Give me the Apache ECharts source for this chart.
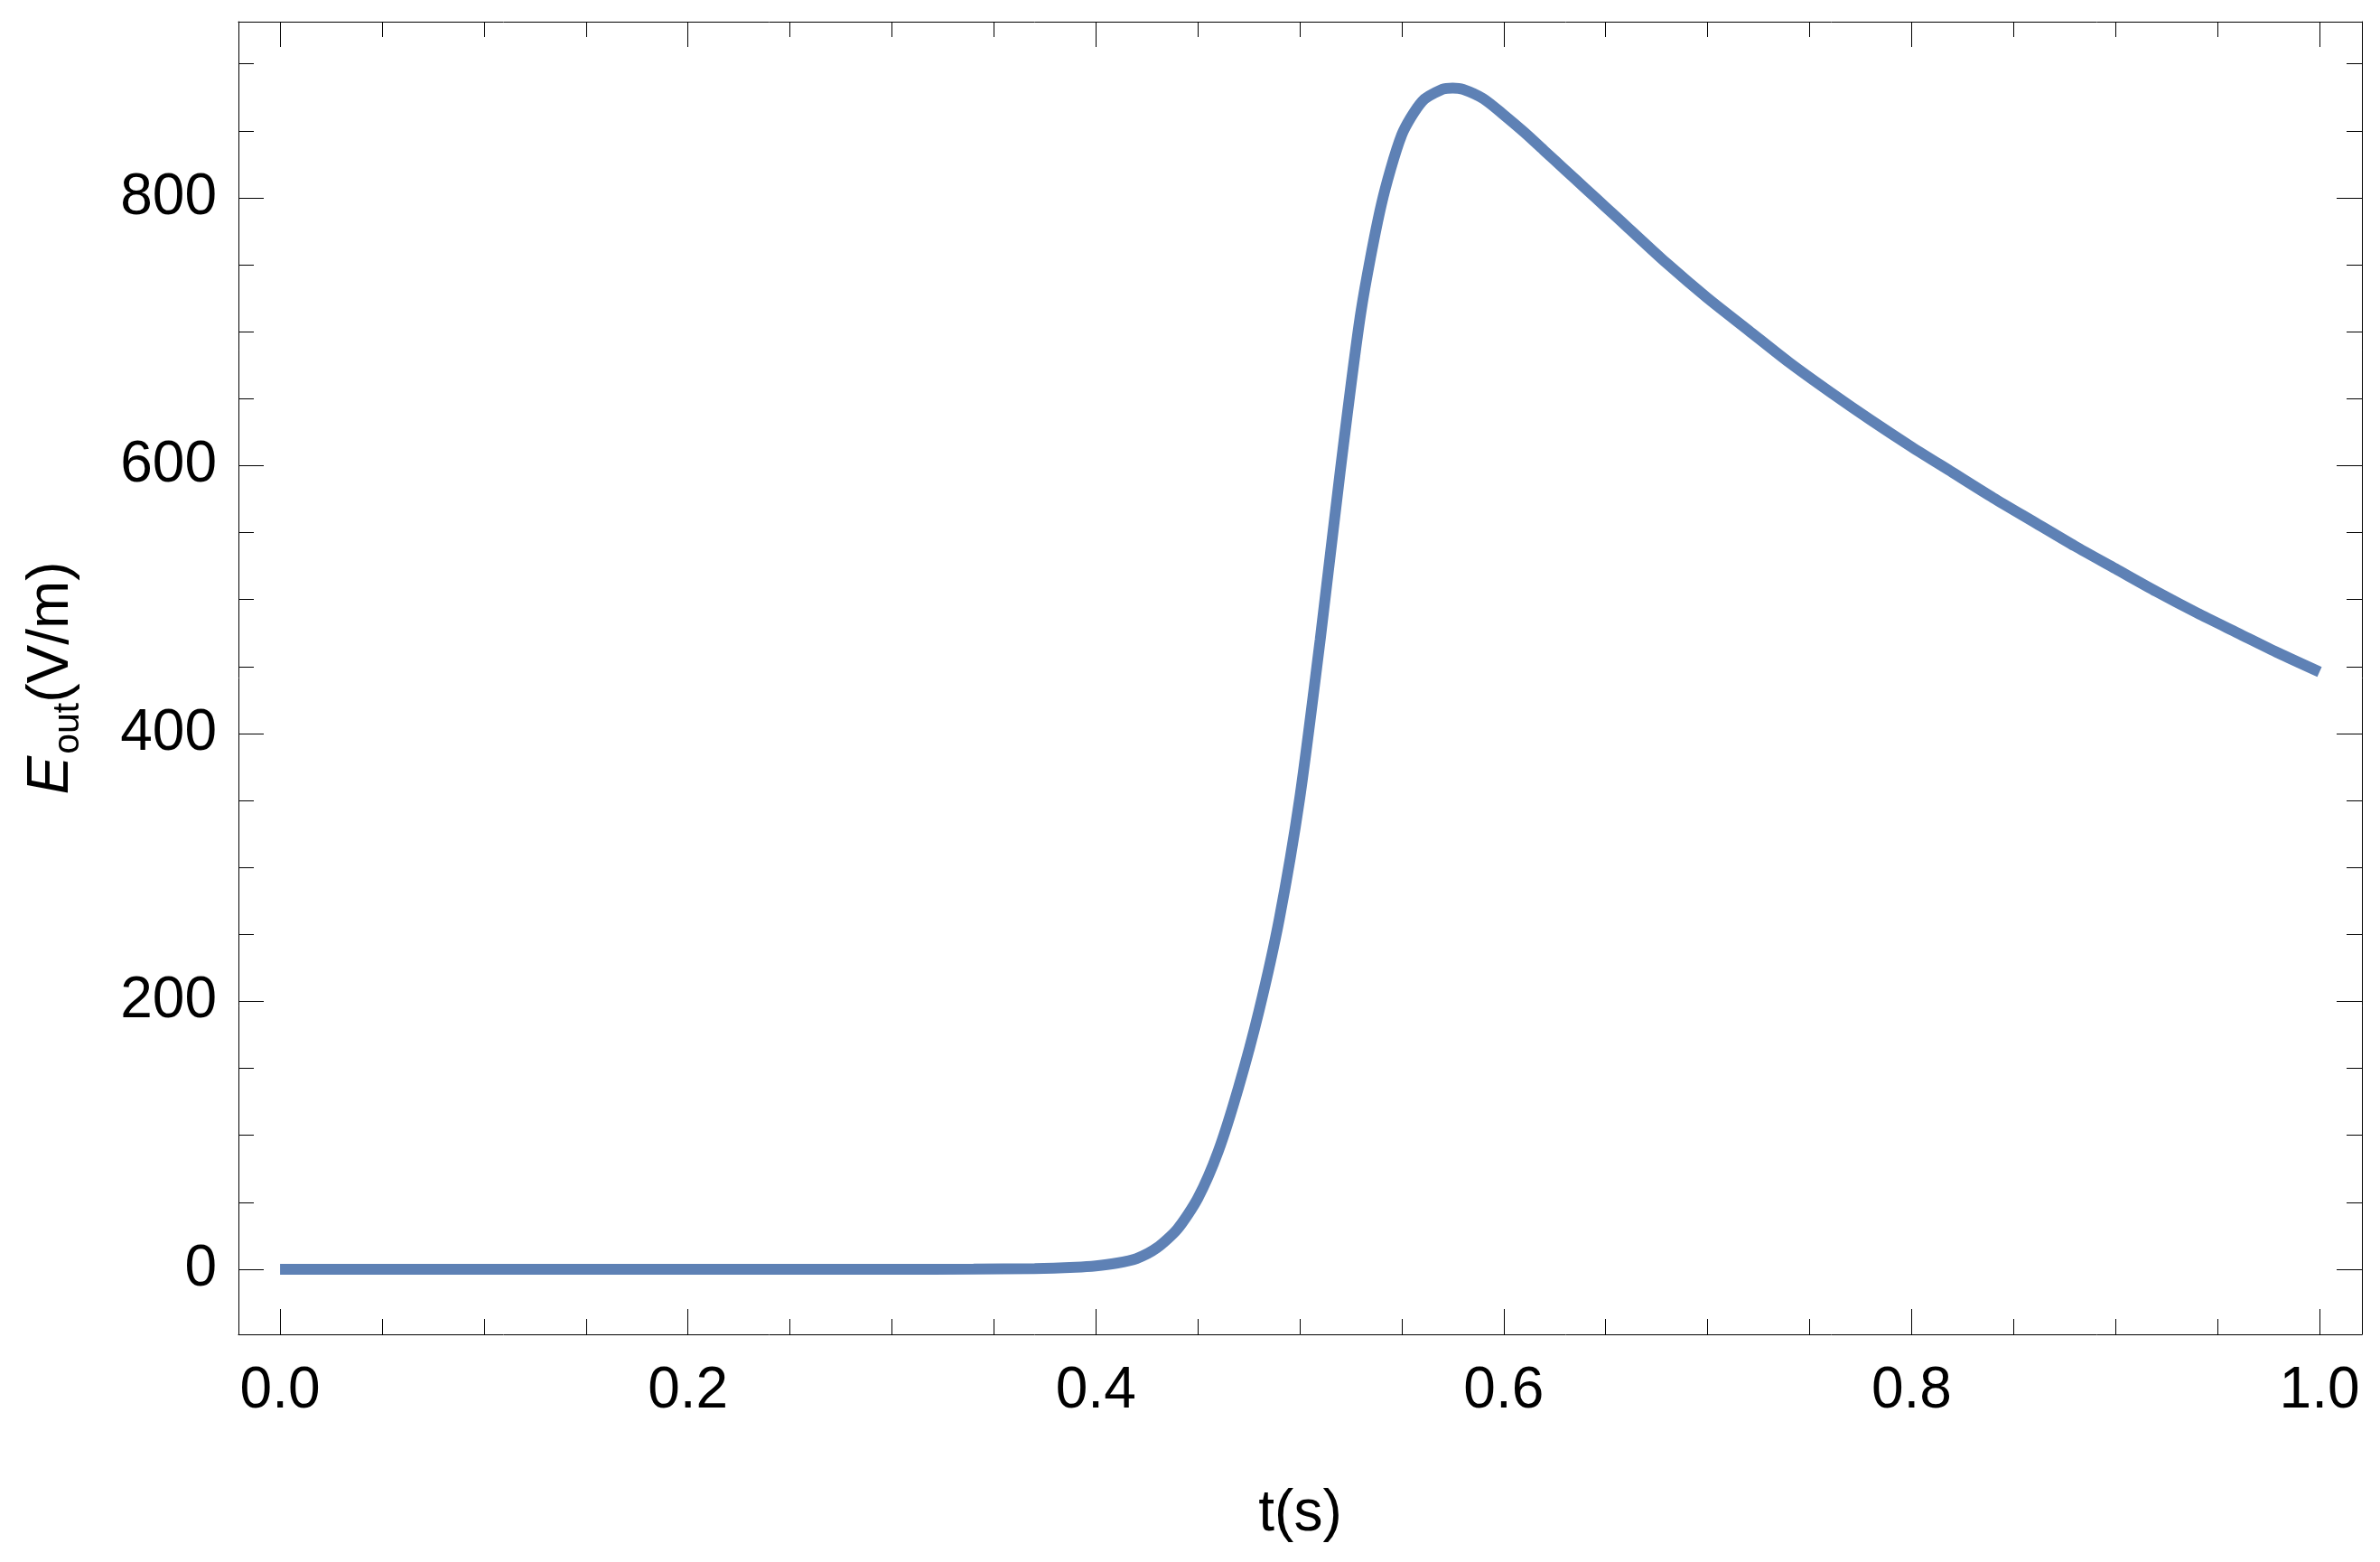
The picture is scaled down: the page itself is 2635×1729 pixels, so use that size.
<!DOCTYPE html>
<html>
<head>
<meta charset="utf-8">
<script src="https://cdn.jsdelivr.net/npm/echarts@6/dist/echarts.min.js"></script>
<style>
  html, body { margin: 0; padding: 0; background: #fff; }
  #chart { width: 2635px; height: 1729px; }
</style>
</head>
<body>
<div id="chart"></div>
<script>
// time (s) and field values (V/m)
var tValues = [0, 0.05, 0.10, 0.15, 0.20, 0.25, 0.30, 0.34, 0.37, 0.39, 0.40, 0.41, 0.42, 0.43,
    0.44, 0.45, 0.46, 0.47, 0.48, 0.49, 0.50, 0.51, 0.52, 0.53, 0.54, 0.55, 0.56, 0.57, 0.575,
    0.58, 0.59, 0.60, 0.61, 0.62, 0.63, 0.64, 0.65, 0.66, 0.68, 0.70, 0.72, 0.74, 0.76, 0.78,
    0.80, 0.82, 0.84, 0.86, 0.88, 0.90, 0.92, 0.94, 0.96, 0.98, 1.00];
var eValues = [0, 0, 0, 0, 0, 0, 0, 0.1, 0.5, 1.5, 2.5, 4.5, 8, 16,
    30, 53, 88, 136, 193, 262, 352, 470, 598, 715, 795, 847, 872, 881, 882,
    881, 874, 862, 849, 835, 821, 807, 793, 779, 751, 725, 701, 677, 655, 634,
    614, 595, 576, 558, 540, 523, 506, 490, 475, 460, 446];

var xMajor = [0, 0.2, 0.4, 0.6, 0.8, 1.0];
var xMinor = [0.05, 0.1, 0.15, 0.25, 0.3, 0.35, 0.45, 0.5, 0.55, 0.65, 0.7, 0.75, 0.85, 0.9, 0.95];
var yMajor = [0, 200, 400, 600, 800];
var yMinor = [50, 100, 150, 250, 300, 350, 450, 500, 550, 650, 700, 750, 850, 900];

var FONT = '"Liberation Sans", Arial, sans-serif';
var xMin = -0.0204, xMax = 1.0208;
var yMin = -48.6, yMax = 931.5;

var chart = echarts.init(document.getElementById('chart'));

var seriesData = tValues.map(function (t, i) { return [t, eValues[i]]; });

function frameX(position, ticks, len, showLine, extra) {
    var ax = {
        type: 'value', min: xMin, max: xMax, position: position,
        axisLine: { show: showLine, onZero: false, lineStyle: { color: '#000', width: 1 } },
        axisTick: { show: true, inside: true, length: len, customValues: ticks,
            lineStyle: { color: '#000', width: 1 } },
        axisLabel: { show: false },
        splitLine: { show: false }
    };
    return Object.assign(ax, extra || {});
}
function frameY(position, ticks, len, showLine, extra) {
    var ax = {
        type: 'value', min: yMin, max: yMax, position: position,
        axisLine: { show: showLine, onZero: false, lineStyle: { color: '#000', width: 1 } },
        axisTick: { show: true, inside: true, length: len, customValues: ticks,
            lineStyle: { color: '#000', width: 1 } },
        axisLabel: { show: false },
        splitLine: { show: false }
    };
    return Object.assign(ax, extra || {});
}

var option = {
    animation: false,
    backgroundColor: '#fff',
    grid: { left: 264, right: 20, top: 24, bottom: 252, outerBoundsMode: 'none' },
    xAxis: [
        frameX('bottom', xMajor, 28, true, {
            name: 't(s)',
            nameLocation: 'middle',
            nameGap: 167,
            nameMoveOverlap: false,
            nameTextStyle: { fontFamily: FONT, fontSize: 64, color: '#000' },
            axisLabel: {
                show: true, customValues: xMajor, margin: 31,
                fontFamily: FONT, fontSize: 64, color: '#000',
                formatter: function (v) { return v.toFixed(1); }
            }
        }),
        frameX('bottom', xMinor, 17, false),
        frameX('top', xMajor, 28, true),
        frameX('top', xMinor, 17, false)
    ],
    yAxis: [
        frameY('left', yMajor, 28, true, {
            name: '{i|E}{s|out}{n|(V/m)}',
            nameLocation: 'middle',
            nameGap: 175,
            nameMoveOverlap: false,
            nameTextStyle: {
                color: '#000',
                rich: {
                    i: { fontFamily: FONT, fontSize: 64, fontStyle: 'italic', color: '#000',
                        lineHeight: 64, verticalAlign: 'top' },
                    s: { fontFamily: FONT, fontSize: 41, color: '#000',
                        lineHeight: 44, padding: [30, 0, 0, 2], verticalAlign: 'top' },
                    n: { fontFamily: FONT, fontSize: 64, color: '#000',
                        lineHeight: 64, verticalAlign: 'top' }
                }
            },
            axisLabel: {
                show: true, customValues: yMajor, margin: 24,
                fontFamily: FONT, fontSize: 64, color: '#000'
            }
        }),
        frameY('left', yMinor, 17, false),
        frameY('right', yMajor, 28, true),
        frameY('right', yMinor, 17, false)
    ],
    series: [{
        type: 'line',
        xAxisIndex: 0,
        yAxisIndex: 0,
        data: seriesData,
        showSymbol: false,
        smooth: 0.25,
        lineStyle: { color: '#5E81B5', width: 12 },
        emphasis: { disabled: true }
    }]
};

chart.setOption(option);
</script>
</body>
</html>
